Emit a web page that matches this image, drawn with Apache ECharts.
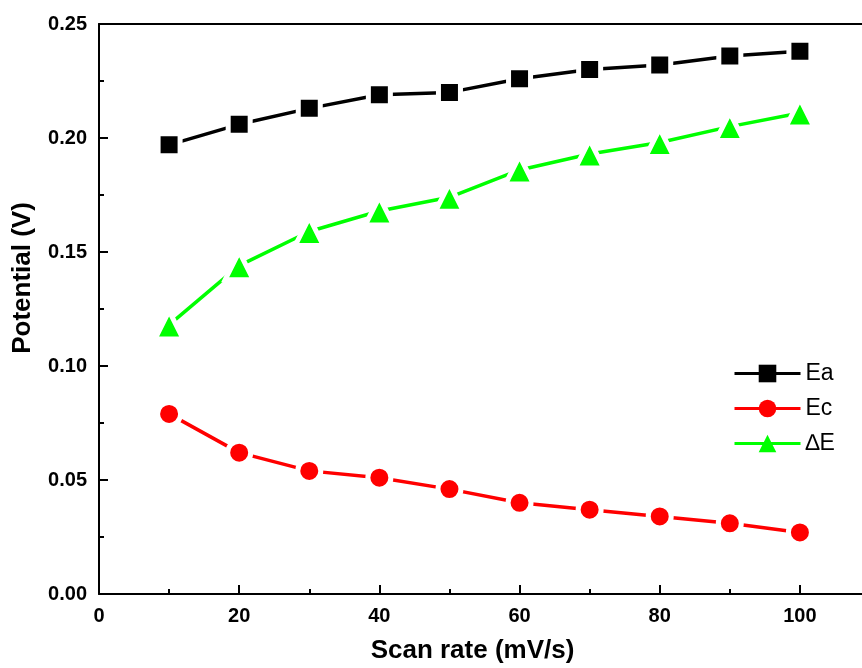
<!DOCTYPE html>
<html>
<head>
<meta charset="utf-8">
<style>
  body { margin: 0; background: #fff; }
  #main { width: 862px; height: 668px; }
</style>
<script src="https://cdn.jsdelivr.net/npm/echarts@6/dist/echarts.min.js"></script>
</head>
<body>
<div id="main"></div>
<script>
  // scan rate (mV/s)
  var scanRate = [10, 20, 30, 40, 50, 60, 70, 80, 90, 100];
  // potentials (V)
  var ea = [0.197, 0.206, 0.213, 0.219, 0.220, 0.226, 0.230, 0.232, 0.236, 0.238];
  var ec = [0.079, 0.062, 0.054, 0.051, 0.046, 0.040, 0.037, 0.034, 0.031, 0.027];
  var dE = [0.118, 0.144, 0.159, 0.168, 0.174, 0.186, 0.193, 0.198, 0.205, 0.211];

  function pairs(xs, ys) {
    var out = [];
    for (var i = 0; i < xs.length; i++) out.push([xs[i], ys[i]]);
    return out;
  }

  var font = 'Liberation Sans, Arial, sans-serif';

  // white border on the markers gives the small gap between line and symbol
  function makeSeries(name, data, color, symbol, size) {
    return {
      name: name,
      type: 'line',
      data: pairs(scanRate, data),
      symbol: symbol,
      symbolSize: size,
      lineStyle: { color: color, width: 3.5 },
      itemStyle: { color: color, borderColor: '#fff', borderWidth: 5 },
      emphasis: { disabled: true },
      animation: false
    };
  }

  // the original frame runs past the right edge of the picture
  var xMax = 110;

  var myChart = echarts.init(document.getElementById('main'));
  myChart.setOption({
    backgroundColor: '#fff',
    grid: { left: 99, top: 24, bottom: 74, right: -8, outerBoundsMode: 'none' },
    legend: {
      orient: 'vertical',
      left: 728,
      top: 357,
      itemWidth: 66,
      itemHeight: 22,
      itemGap: 12,
      lineStyle: { width: 3 },
      textStyle: { fontFamily: font, fontSize: 23, lineHeight: 22, color: '#000' },
      data: [
        { name: 'Ea', itemStyle: { borderWidth: 0 } },
        { name: 'Ec', itemStyle: { borderWidth: 0 } },
        { name: '\u2206E', itemStyle: { borderWidth: 0 } }
      ]
    },
    xAxis: [{
      type: 'value',
      min: 0, max: xMax, interval: 20,
      name: 'Scan rate (mV/s)',
      nameLocation: 'middle',
      nameGap: 44,
      nameTextStyle: { fontFamily: font, fontSize: 26, fontWeight: 'bold', color: '#000', padding: [0, 24, 0, 0] },
      axisLine: { lineStyle: { color: '#000', width: 2 } },
      axisTick: { inside: true, length: 9, lineStyle: { color: '#000', width: 2 } },
      minorTick: { show: true, splitNumber: 2, length: 5, lineStyle: { color: '#000', width: 2 } },
      splitLine: { show: false },
      axisLabel: {
        fontFamily: font, fontSize: 20, fontWeight: 'bold', color: '#000', margin: 12,
        formatter: function (v) { return v > 100 ? '' : v; }
      }
    }, {
      type: 'value',
      position: 'top',
      min: 0, max: xMax,
      axisLine: { show: true, onZero: false, lineStyle: { color: '#000', width: 2 } },
      axisTick: { show: false },
      axisLabel: { show: false },
      splitLine: { show: false }
    }],
    yAxis: {
      type: 'value',
      min: 0, max: 0.25, interval: 0.05,
      name: 'Potential (V)',
      nameLocation: 'middle',
      nameGap: 63,
      nameTextStyle: { fontFamily: font, fontSize: 26, fontWeight: 'bold', color: '#000', padding: [0, 0, 0, 62] },
      axisLine: { lineStyle: { color: '#000', width: 2 } },
      axisTick: { inside: true, length: 9, lineStyle: { color: '#000', width: 2 } },
      minorTick: { show: true, splitNumber: 2, length: 5, lineStyle: { color: '#000', width: 2 } },
      splitLine: { show: false },
      axisLabel: {
        fontFamily: font, fontSize: 20, fontWeight: 'bold', color: '#000', margin: 12,
        formatter: function (v) { return v.toFixed(2); }
      }
    },
    series: [
      makeSeries('Ea', ea, '#000000', 'rect', 22),
      makeSeries('Ec', ec, '#ff0000', 'circle', 23),
      makeSeries('\u2206E', dE, '#00ff00', 'triangle', 28)
    ]
  });
</script>
</body>
</html>
